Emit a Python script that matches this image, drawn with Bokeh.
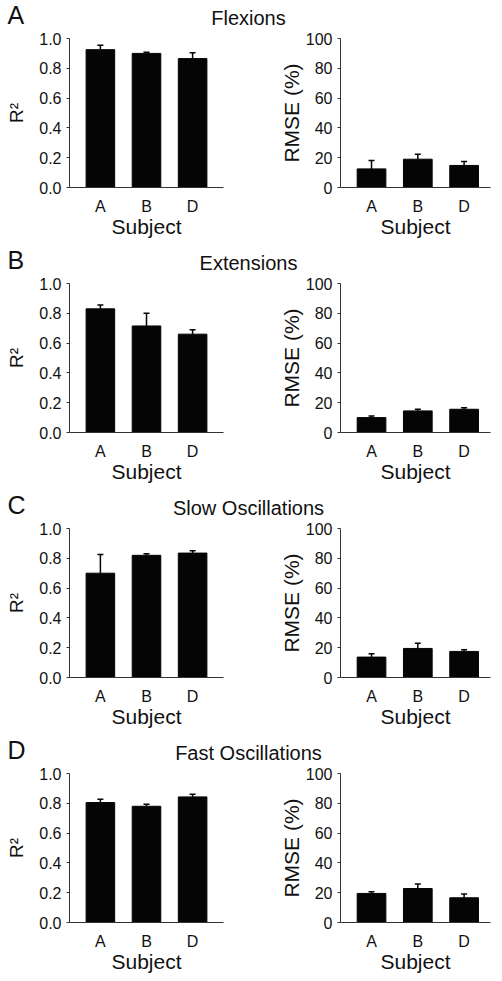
from bokeh.plotting import figure
from bokeh.layouts import column, row
from bokeh.models import Range1d, FixedTicker, PrintfTickFormatter, ColumnDataSource
from bokeh.core.properties import value
from bokeh.embed import file_html
from bokeh.resources import INLINE

# ---------------- data ----------------
subjects = ["A", "B", "D"]
panel_letters = ["A", "B", "C", "D"]
movements = ["Flexions", "Extensions", "Slow Oscillations", "Fast Oscillations"]

flex_r2 = [0.925, 0.900, 0.865]
flex_r2_err = [0.030, 0.008, 0.040]
flex_rmse = [12.5, 19.0, 14.8]
flex_rmse_err = [5.7, 3.3, 2.7]

ext_r2 = [0.830, 0.715, 0.660]
ext_r2_err = [0.025, 0.085, 0.030]
ext_rmse = [10.0, 14.5, 15.6]
ext_rmse_err = [1.0, 1.1, 1.0]

slow_r2 = [0.700, 0.820, 0.835]
slow_r2_err = [0.125, 0.010, 0.015]
slow_rmse = [13.7, 19.5, 17.5]
slow_rmse_err = [2.2, 3.5, 1.2]

fast_r2 = [0.805, 0.780, 0.843]
fast_r2_err = [0.022, 0.013, 0.017]
fast_rmse = [19.5, 22.8, 16.6]
fast_rmse_err = [1.2, 3.0, 2.5]

r2_ticks = [0.0, 0.2, 0.4, 0.6, 0.8, 1.0]
rmse_ticks = [0, 20, 40, 60, 80, 100]

r2_all = [(flex_r2, flex_r2_err), (ext_r2, ext_r2_err), (slow_r2, slow_r2_err), (fast_r2, fast_r2_err)]
rmse_all = [(flex_rmse, flex_rmse_err), (ext_rmse, ext_rmse_err), (slow_rmse, slow_rmse_err), (fast_rmse, fast_rmse_err)]

FONT = "Liberation Sans"
AXIS_COLOR = "#333333"
INK = "#111111"
TOP_B = 9          # border above each plot frame
BOT_B = 52         # border below each plot frame
FRAME_H = 150


def panel(means, errs, ticks, fmt, ylabel, ylabel_size, width, xr, b_left, b_right, ylab_standoff):
    x = list(range(1, len(subjects) + 1))
    p = figure(width=width, height=TOP_B + FRAME_H + BOT_B, output_backend="svg",
               toolbar_location=None, title=None,
               x_range=Range1d(*xr), y_range=Range1d(ticks[0], ticks[-1]),
               min_border_left=b_left, min_border_right=b_right,
               min_border_top=TOP_B, min_border_bottom=BOT_B)
    p.outline_line_color = None
    p.grid.visible = False
    p.background_fill_color = "white"
    p.border_fill_color = "white"
    src = ColumnDataSource(dict(x=x, top=means, hi=[m + e for m, e in zip(means, errs)]))
    p.vbar(x="x", top="top", bottom=ticks[0], width=0.62, source=src,
           fill_color="#050505", line_color="#050505")
    p.segment(x0="x", y0="top", x1="x", y1="hi", source=src, line_color="#050505", line_width=1.5)
    p.scatter(x="x", y="hi", marker="dash", size=6, source=src, line_color="#050505", line_width=1.5)

    ya = p.yaxis[0]
    ya.ticker = FixedTicker(ticks=ticks)
    ya.formatter = PrintfTickFormatter(format=fmt)
    ya.major_tick_out = 3
    ya.major_tick_in = 0
    ya.minor_tick_out = 0
    ya.minor_tick_in = 0
    ya.major_label_standoff = 5
    ya.axis_label = ylabel
    ya.axis_label_standoff = ylab_standoff

    xa = p.xaxis[0]
    xa.ticker = FixedTicker(ticks=x)
    xa.major_label_overrides = {i: s for i, s in zip(x, subjects)}
    xa.major_tick_out = 0
    xa.major_tick_in = 0
    xa.minor_tick_out = 0
    xa.minor_tick_in = 0
    xa.major_label_standoff = 10
    xa.axis_label = "Subject"
    xa.axis_label_standoff = -3

    for ax in (xa, ya):
        ax.axis_line_color = AXIS_COLOR
        ax.axis_line_width = 1
        ax.major_tick_line_color = AXIS_COLOR
        ax.major_label_text_font = FONT
        ax.major_label_text_font_size = "16px"
        ax.major_label_text_color = INK
        ax.axis_label_text_font = FONT
        ax.axis_label_text_font_size = "21px"
        ax.axis_label_text_font_style = "normal"
        ax.axis_label_text_color = INK
    ya.axis_label_text_font_size = ylabel_size
    return p


def strip(letter, title, height):
    s = figure(width=500, height=height, output_backend="svg", toolbar_location=None, title=None,
               x_range=Range1d(0, 500), y_range=Range1d(0, height),
               x_axis_location=None, y_axis_location=None, min_border=0,
               min_border_left=0, min_border_right=0, min_border_top=0, min_border_bottom=0)
    s.grid.visible = False
    s.outline_line_color = None
    s.text(x=[7], y=[14.5], text=[letter], text_font=value(FONT), text_font_size="25px",
           text_baseline="middle", text_align="left", text_color=INK)
    s.text(x=[248], y=[12], text=[title], text_font=value(FONT), text_font_size="20px",
           text_baseline="middle", text_align="center", text_color=INK)
    return s


rows = []
for i in range(4):
    sh = 29 if i == 0 else 34
    left = panel(r2_all[i][0], r2_all[i][1], r2_ticks, "%.1f", "R²", "19px", 250,
                 (0.33, 3.67), 69, 27, 9)
    right = panel(rmse_all[i][0], rmse_all[i][1], rmse_ticks, "%d", "RMSE (%)", "21px", 250,
                  (0.33, 3.57), 90, 10, 0)
    rows.append(strip(panel_letters[i], movements[i], sh))
    rows.append(row(left, right))

layout = column(*rows)
open("out.html", "w").write(file_html(layout, INLINE))
